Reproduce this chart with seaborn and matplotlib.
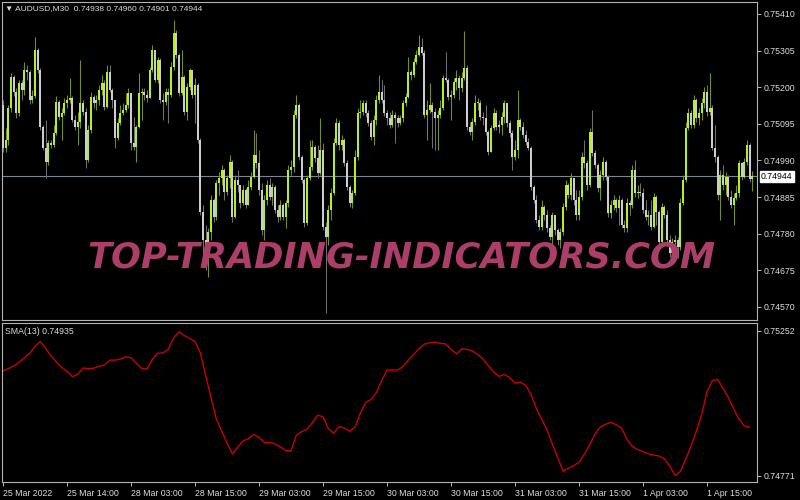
import numpy as np
import matplotlib
matplotlib.use("Agg")
import matplotlib.pyplot as plt
import seaborn as sns

# ---------------- data (prices in points, 1 point = 0.00001) ----------------
symbol = "AUDUSD,M30"
first_open_pts = 75149
closes_pts = [
    75026, 75049, 75141, 75230, 75186, 75126, 75212, 75192, 75249, 75243,
    75163, 75175, 75307, 75249, 75086, 75026, 74985, 75040, 75035, 75068,
    75157, 75115, 75126, 75154, 75163, 75169, 75106, 75086, 75100, 75154,
    75129, 74991, 75077, 75172, 75154, 75163, 75192, 75212, 75143, 75243,
    75192, 75163, 75055, 75097, 75126, 75135, 75149, 75183, 75040, 75029,
    75086, 75183, 75186, 75178, 75169, 75249, 75307, 75221, 75278, 75163,
    75157, 75186, 75178, 75258, 75355, 75293, 75183, 75230, 75129, 75201,
    75249, 75178, 75207, 75049, 74842, 74762, 74719, 74785, 74877, 74828,
    74925, 74940, 74963, 74899, 74940, 74985, 74828, 74934, 74920, 74868,
    74905, 74862, 74914, 74943, 75006, 74982, 74905, 74791, 74877, 74920,
    74885, 74914, 74848, 74828, 74862, 74828, 74868, 74963, 74971, 75121,
    75149, 75000, 74934, 74810, 74940, 74971, 75029, 74997, 74954, 75020,
    74799, 74770, 74848, 74897, 75040, 75097, 75035, 75049, 74982, 74914,
    74868, 74897, 75000, 75126, 75129, 75154, 75126, 75097, 75057, 75106,
    75163, 75186, 75163, 75126, 75112, 75092, 75121, 75112, 75097, 75112,
    75154, 75172, 75243, 75235, 75272, 75293, 75315, 75298, 75121, 75135,
    75149, 75129, 75112, 75121, 75141, 75227, 75221, 75172, 75178, 75215,
    75227, 75198, 75227, 75255, 75086, 75072, 75100, 75154, 75154, 75115,
    75112, 75072, 75014, 75083, 75126, 75086, 75092, 75115, 75154, 75097,
    75068, 75000, 75020, 75106, 75086, 75063, 75043, 75026, 74914, 74877,
    74819, 74799, 74857, 74834, 74797, 74770, 74834, 74791, 74762, 74785,
    74857, 74920, 74891, 74940, 74877, 74834, 74885, 75000, 74982, 74920,
    75072, 75012, 74977, 74911, 74948, 74985, 74943, 74839, 74862, 74877,
    74854, 74877, 74805, 74797, 74868, 74862, 74963, 74897, 74899, 74897,
    74848, 74828, 74834, 74799, 74885, 74842, 74756, 74857, 74834, 74762,
    74725, 74756, 74762, 74742, 74868, 74934, 75083, 75126, 75092, 75163,
    75112, 75126, 75154, 75186, 75129, 75141, 75026, 75000, 74891, 74948,
    74920, 74943, 74885, 74862, 74883, 74897, 74982, 74943, 74985, 75035,
    74938, 74944,
]
highs_pts = [
    75163, 75083, 75149, 75240, 75235, 75198, 75221, 75221, 75272, 75264,
    75249, 75192, 75344, 75313, 75255, 75092, 75106, 75049, 75049, 75092,
    75175, 75163, 75141, 75169, 75178, 75227, 75175, 75121, 75129, 75278,
    75163, 75141, 75092, 75186, 75178, 75178, 75207, 75235, 75221, 75264,
    75264, 75198, 75163, 75112, 75149, 75154, 75183, 75198, 75163, 75115,
    75092, 75240, 75198, 75198, 75192, 75258, 75321, 75301, 75287, 75284,
    75183, 75198, 75198, 75272, 75393, 75364, 75298, 75307, 75235, 75212,
    75255, 75243, 75227, 75212, 75055, 74862, 74805, 74797, 74891, 74883,
    74934, 74957, 74977, 74969, 74948, 75006, 74991, 74948, 74963, 74920,
    74920, 74911, 74934, 74957, 75077, 75068, 75020, 74925, 74891, 74934,
    74940, 74925, 74920, 74862, 74877, 74868, 74877, 74977, 74991, 75135,
    75178, 75154, 75006, 74940, 74948, 75049, 75049, 75035, 75035, 75112,
    75040, 74813, 74862, 74911, 75055, 75112, 75106, 75063, 75055, 74991,
    74920, 74905, 75020, 75141, 75163, 75163, 75163, 75135, 75106, 75121,
    75178, 75235, 75221, 75207, 75135, 75129, 75135, 75129, 75121, 75121,
    75163, 75183, 75287, 75249, 75284, 75307, 75350, 75341, 75307, 75163,
    75212, 75157, 75141, 75135, 75163, 75235, 75301, 75227, 75192, 75227,
    75249, 75235, 75243, 75361, 75264, 75100, 75112, 75178, 75169, 75163,
    75129, 75149, 75077, 75092, 75141, 75135, 75106, 75129, 75163, 75154,
    75106, 75077, 75049, 75192, 75112, 75100, 75077, 75055, 75032, 74920,
    74891, 74834, 74877, 74862, 74848, 74805, 74842, 74834, 74797, 74797,
    74868, 74934, 74925, 74954, 74940, 74905, 74905, 75014, 75049, 74991,
    75083, 75135, 75020, 74982, 74963, 75000, 74991, 74948, 74877, 74891,
    74883, 74891, 74883, 74819, 74883, 74877, 74977, 74991, 74920, 74925,
    74911, 74877, 74848, 74877, 74897, 74891, 74848, 74868, 74862, 74848,
    74776, 74768, 74776, 74770, 74883, 74948, 75100, 75141, 75135, 75178,
    75169, 75141, 75169, 75201, 75207, 75240, 75149, 75092, 75006, 74963,
    74977, 74957, 74948, 74905, 74897, 74920, 74991, 74985, 74997, 75049,
    75040, 74960,
]
lows_pts = [
    75014, 75014, 75035, 75129, 75175, 75112, 75117, 75163, 75178, 75221,
    75152, 75154, 75169, 75240, 75077, 75020, 74940, 74977, 75026, 75029,
    75063, 75106, 75049, 75121, 75141, 75154, 75100, 75077, 75035, 75083,
    75121, 74969, 74985, 75068, 75141, 75135, 75149, 75178, 75135, 75141,
    75186, 75141, 75026, 75049, 75092, 75121, 75129, 75141, 75020, 75020,
    74985, 75083, 75106, 75163, 75157, 75178, 75243, 75215, 75212, 75154,
    75106, 75149, 75097, 75172, 75249, 75284, 75175, 75178, 75121, 75106,
    75192, 75169, 75097, 75040, 74834, 74719, 74676, 74656, 74762, 74813,
    74819, 74891, 74920, 74877, 74891, 74911, 74813, 74825, 74899, 74854,
    74862, 74854, 74862, 74905, 74940, 74969, 74891, 74776, 74762, 74862,
    74877, 74862, 74839, 74813, 74819, 74819, 74797, 74857, 74948, 74957,
    75112, 74991, 74925, 74799, 74805, 74934, 74963, 74985, 74940, 74948,
    74791, 74553, 74748, 74819, 74891, 75035, 75020, 75020, 74974, 74905,
    74857, 74854, 74891, 74991, 75112, 75121, 75115, 75089, 75049, 75035,
    75092, 75154, 75154, 75117, 75092, 75083, 75086, 75040, 75086, 75092,
    75100, 75146, 75169, 75221, 75230, 75267, 75290, 75293, 75112, 75049,
    75126, 75026, 75020, 75020, 75112, 75135, 75215, 75163, 75106, 75169,
    75192, 75163, 75186, 75221, 75077, 75063, 75049, 75092, 75135, 75106,
    75092, 75063, 75006, 75014, 75077, 75077, 75068, 75063, 75097, 75086,
    75057, 74963, 74991, 74997, 75077, 75055, 75035, 75020, 74905, 74868,
    74810, 74791, 74791, 74819, 74785, 74762, 74748, 74776, 74748, 74739,
    74776, 74848, 74883, 74877, 74862, 74819, 74819, 74877, 74969, 74905,
    74914, 75003, 74969, 74899, 74877, 74934, 74934, 74828, 74825, 74848,
    74842, 74805, 74797, 74785, 74785, 74834, 74854, 74885, 74883, 74888,
    74839, 74819, 74805, 74791, 74797, 74805, 74748, 74748, 74825, 74753,
    74713, 74719, 74710, 74710, 74733, 74862, 74928, 75077, 75083, 75083,
    75100, 75092, 75106, 75141, 75117, 75121, 75020, 74985, 74877, 74819,
    74905, 74891, 74877, 74854, 74805, 74877, 74885, 74934, 74940, 74977,
    74928, 74901,
]
# SMA(13) read every 2nd bar
sma_step = 2
sma_pts = [
    75119, 75127, 75135, 75148, 75163, 75178, 75201, 75217, 75194, 75169,
    75149, 75131, 75118, 75100, 75108, 75129, 75127, 75128, 75135, 75139,
    75155, 75155, 75159, 75166, 75163, 75145, 75127, 75126, 75158, 75178,
    75179, 75192, 75229, 75250, 75237, 75227, 75217, 75179, 75104, 75029,
    74959, 74919, 74879, 74843, 74865, 74886, 74894, 74908, 74898, 74881,
    74881, 74876, 74867, 74854, 74853, 74905, 74917, 74925, 74947, 74972,
    74966, 74927, 74912, 74934, 74929, 74919, 74932, 74979, 75014, 75024,
    75047, 75087, 75122, 75122, 75122, 75134, 75155, 75174, 75194, 75208,
    75213, 75215, 75211, 75209, 75191, 75176, 75192, 75191, 75186, 75174,
    75158, 75136, 75116, 75101, 75107, 75097, 75079, 75082, 75071, 75041,
    74994, 74958, 74923, 74875, 74831, 74786, 74795, 74804, 74815, 74842,
    74874, 74909, 74933, 74942, 74948, 74940, 74929, 74891, 74868, 74857,
    74850, 74844, 74839, 74836, 74827, 74802, 74772, 74784, 74825, 74869,
    74919, 74975, 75050, 75087, 75091, 75061, 75031, 74993, 74958, 74936,
    74932,
]
time_labels = ["25 Mar 2022", "25 Mar 14:00", "28 Mar 03:00", "28 Mar 15:00",
               "29 Mar 03:00", "29 Mar 15:00", "30 Mar 03:00", "30 Mar 15:00",
               "31 Mar 03:00", "31 Mar 15:00", "1 Apr 03:00", "1 Apr 15:00"]
label_step = 24
price_ticks = [0.75410, 0.75305, 0.75200, 0.75095, 0.74990, 0.74885,
               0.74780, 0.74675, 0.74570]
sma_ticks = [0.75252, 0.74771]
last_ohlc = [0.74938, 0.74960, 0.74901, 0.74944]
sma_last = 0.74935
watermark = "TOP-TRADING-INDICATORS.COM"

# ---------------- style ----------------
sns.set_style("dark", {"axes.facecolor": "black", "figure.facecolor": "black",
                       "axes.edgecolor": "#b4b4b4", "grid.color": "black"})
plt.rcParams['font.family'] = ['Liberation Sans', 'DejaVu Sans']
plt.rcParams['text.color'] = '#dcdcdc'

UP_BODY, UP_WICK = '#b6f01a', '#7d8c12'
DN_BODY, DN_WICK = '#cdcdcd', '#707070'
TXT = '#dcdcdc'
FS = 6.3

closes = np.array(closes_pts) / 1e5
highs = np.array(highs_pts) / 1e5
lows = np.array(lows_pts) / 1e5
opens = np.concatenate([[first_open_pts / 1e5], closes[:-1]])
highs = np.maximum(highs, np.maximum(opens, closes))
lows = np.minimum(lows, np.minimum(opens, closes))
idx = np.arange(len(closes))
up = closes >= opens

W, H = 800, 500
fig = plt.figure(figsize=(8, 5), dpi=100, facecolor='black')
ax = fig.add_axes([2 / W, 1 - 320 / H, 755 / W, 318 / H])
ax2 = fig.add_axes([2 / W, 1 - 482 / H, 755 / W, 159 / H])

px_per_bar = 2.6667
xlim = ((2 - 3) / px_per_bar, (757 - 3) / px_per_bar)

# main chart
ax.axhline(last_ohlc[3], color='#7a8896', lw=0.8, zorder=0.5)
ax.vlines(idx, lows, highs, colors=np.where(up, UP_WICK, DN_WICK), lw=0.75, zorder=2)
body_h = np.maximum(np.abs(closes - opens), 0.00003)
ax.bar(idx, body_h, bottom=np.minimum(opens, closes), width=0.8,
       color=np.where(up, UP_BODY, DN_BODY), linewidth=0, zorder=3)
ax.set_xlim(*xlim)
ax.set_ylim(0.75450 - 2.867e-5 * 320, 0.75450 - 2.867e-5 * 2)
ax.yaxis.tick_right()
ax.set_yticks(price_ticks)
ax.set_yticklabels([f"{p:.5f}" for p in price_ticks])
ax.set_xticks([])
ax.tick_params(axis='y', colors='#b4b4b4', labelcolor=TXT, length=3, width=0.7,
               pad=2, labelsize=FS, right=True, left=False)
ax.text(1 + 4 / 755, last_ohlc[3], f"{last_ohlc[3]:.5f}", transform=ax.get_yaxis_transform(),
        ha='left', va='center', fontsize=FS, color='black', zorder=20, clip_on=False,
        bbox=dict(boxstyle='square,pad=0.15', facecolor='white', edgecolor='white'))

# SMA panel
sma_idx = np.arange(len(sma_pts)) * sma_step
sns.lineplot(x=sma_idx, y=np.array(sma_pts) / 1e5, ax=ax2, color='#c80000', lw=1.0)
ax2.set_xlim(*xlim)
ax2.set_ylim(0.74771 + 3.3287e-5 * (475.5 - 482), 0.74771 + 3.3287e-5 * (475.5 - 323))
ax2.yaxis.tick_right()
ax2.set_yticks(sma_ticks)
ax2.set_yticklabels([f"{p:.5f}" for p in sma_ticks])
ax2.set_xticks(np.arange(len(time_labels)) * label_step)
ax2.set_xticklabels(time_labels)
for lbl in ax2.get_xticklabels():
    lbl.set_ha('left')
ax2.tick_params(axis='y', colors='#b4b4b4', labelcolor=TXT, length=3, width=0.7,
                pad=2, labelsize=FS, right=True, left=False)
ax2.tick_params(axis='x', colors='#b4b4b4', labelcolor=TXT, length=3, width=0.7,
                pad=2, labelsize=FS, bottom=True)
ax2.set_xlabel('')
ax2.set_ylabel('')

for a in (ax, ax2):
    a.grid(False)
    for s in a.spines.values():
        s.set_color('#b4b4b4')
        s.set_linewidth(0.8)

# texts
fig.text(5 / W, 1 - 9 / H,
         f"\u25bc {symbol}  {last_ohlc[0]:.5f} {last_ohlc[1]:.5f} {last_ohlc[2]:.5f} {last_ohlc[3]:.5f}",
         ha='left', va='center', fontsize=6.0, color=TXT)
fig.text(5 / W, 1 - 331 / H, f"SMA(13) {sma_last:.5f}", ha='left', va='center',
         fontsize=FS, color=TXT)

wm = fig.text(401.5 / W, 1 - 268 / H, watermark, ha='center', va='baseline',
              fontsize=27, fontweight='bold', style='italic', family='DejaVu Sans',
              color='#ab3f69', zorder=30)
fig.canvas.draw()
bb = wm.get_window_extent()
wm.set_fontsize(27 * 628 / bb.width)

fig.savefig("out.png", dpi=100, facecolor='black')
